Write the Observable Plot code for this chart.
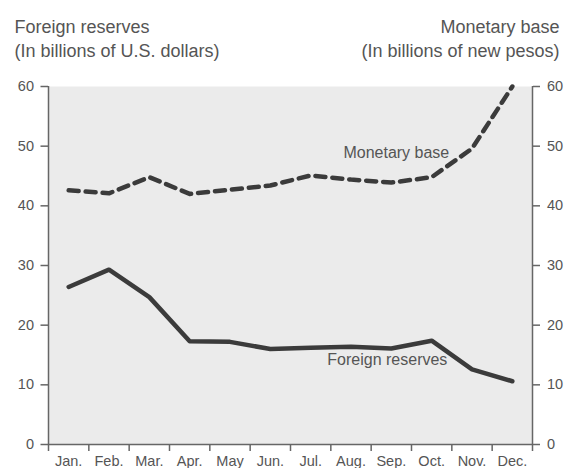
<!DOCTYPE html>
<html>
<head>
<meta charset="utf-8">
<script src="https://cdn.jsdelivr.net/npm/d3@7"></script>
<script src="https://cdn.jsdelivr.net/npm/@observablehq/plot@0.6"></script>
<style>
  html, body { margin: 0; padding: 0; background: #fff; }
  #chart svg { display: block; }
</style>
</head>
<body>
<div id="chart"></div>
<script>
const months = ["Jan.", "Feb.", "Mar.", "Apr.", "May", "Jun.", "Jul.", "Aug.", "Sep.", "Oct.", "Nov.", "Dec."];
const foreignReserves = [26.4, 29.3, 24.7, 17.3, 17.2, 16.0, 16.2, 16.4, 16.1, 17.4, 12.6, 10.6];
const monetaryBase = [42.6, 42.1, 44.8, 42.0, 42.7, 43.4, 45.1, 44.4, 43.9, 44.8, 49.6, 60.0];
const yTicks = [0, 10, 20, 30, 40, 50, 60];
const leftTitle = "Foreign reserves\n(In billions of U.S. dollars)";
const rightTitle = "Monetary base\n(In billions of new pesos)";
const labelTexts = ["Monetary base", "Foreign reserves"];
const labelMonths = ["Sep.", "Sep."];
const labelValues = [48.9, 14.1];

const idx = d3.range(months.length);
const boundaries = d3.range(months.length + 1).map(i => i - 0.5);
const labels = labelTexts.map((t, i) => ({text: t, x: months.indexOf(labelMonths[i]), y: labelValues[i]}));

const textColor = "#555";
const axisColor = "#666";
const lineColor = "#3b3b3b";

const plot = Plot.plot({
  width: 565,
  height: 468,
  marginTop: 86,
  marginBottom: 24,
  marginLeft: 48,
  marginRight: 33,
  style: {fontFamily: "'Liberation Sans', Arial, Helvetica, sans-serif", color: textColor, background: "#fff", overflow: "visible"},
  x: {type: "linear", domain: [-0.5, months.length - 0.5], axis: null, label: null},
  y: {domain: [0, 60], axis: null, label: null},
  marks: [
    Plot.frame({fill: "#ebebeb", stroke: "none"}),
    // month labels
    Plot.axisX({ticks: idx, tickSize: 0, tickPadding: 11, tickFormat: i => months[i], fontSize: 14.5, fill: textColor, label: null}),
    // boundary ticks
    Plot.axisX({ticks: boundaries, tickSize: 7, tickFormat: () => "", stroke: axisColor, strokeWidth: 1.5, label: null}),
    Plot.axisY({anchor: "left", ticks: yTicks, tickSize: 7.5, tickPadding: 7, fontSize: 14.5, fill: textColor, stroke: axisColor, strokeWidth: 1.5, label: null}),
    Plot.axisY({anchor: "right", ticks: yTicks, tickSize: 7, tickPadding: 7.5, fontSize: 14.5, fill: textColor, stroke: axisColor, strokeWidth: 1.5, label: null}),
    Plot.ruleX([-0.5, months.length - 0.5], {stroke: axisColor, strokeWidth: 1.5}),
    Plot.ruleY([0], {stroke: axisColor, strokeWidth: 1.5}),
    Plot.line(idx, {x: i => i, y: i => monetaryBase[i], stroke: lineColor, strokeWidth: 4.5, strokeDasharray: "10,7"}),
    Plot.line(idx, {x: i => i, y: i => foreignReserves[i], stroke: lineColor, strokeWidth: 4.5}),
    Plot.text(labels.slice(0, 1), {x: "x", y: "y", text: "text", dx: 5, fontSize: 16, fill: textColor, textAnchor: "middle", lineAnchor: "middle"}),
    Plot.text(labels.slice(1), {x: "x", y: "y", text: "text", dx: -4, fontSize: 16, fill: textColor, textAnchor: "middle", lineAnchor: "middle"}),
    Plot.text([leftTitle], {frameAnchor: "top-left", dx: -34, dy: -70, textAnchor: "start", lineAnchor: "top", lineHeight: 1.33, fontSize: 18, fill: textColor}),
    Plot.text([rightTitle], {frameAnchor: "top-right", dx: 27, dy: -70, textAnchor: "end", lineAnchor: "top", lineHeight: 1.33, fontSize: 18, fill: textColor})
  ]
});
document.getElementById("chart").appendChild(plot);
</script>
</body>
</html>
